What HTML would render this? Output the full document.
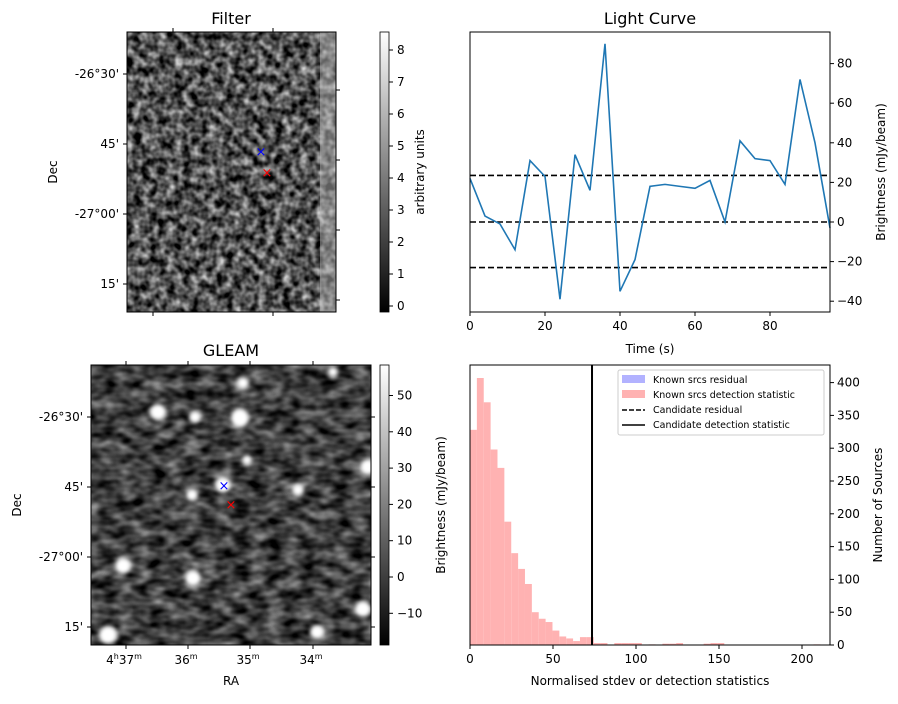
<!DOCTYPE html>
<html><head><meta charset="utf-8"><style>
body{margin:0;background:#fff;font-family:"Liberation Sans","DejaVu Sans",sans-serif}
svg text{font-family:"DejaVu Sans","Liberation Sans",sans-serif;fill:#000}
</style></head><body>
<svg id="fig" width="898" height="699" viewBox="0 0 898 699" xmlns="http://www.w3.org/2000/svg">
<defs>
<filter id="noiseA" x="0" y="0" width="100%" height="100%" color-interpolation-filters="sRGB">
<feTurbulence type="fractalNoise" baseFrequency="0.12" numOctaves="2" seed="3"/>
<feColorMatrix type="matrix" values="1.3 0 0 0 -0.33 1.3 0 0 0 -0.33 1.3 0 0 0 -0.33 0 0 0 0 1"/>
</filter>
<filter id="noiseB" x="0" y="0" width="100%" height="100%" color-interpolation-filters="sRGB">
<feTurbulence type="fractalNoise" baseFrequency="0.06 0.1" numOctaves="2" seed="8"/>
<feColorMatrix type="matrix" values="0.9 0 0 0 -0.2 0.9 0 0 0 -0.2 0.9 0 0 0 -0.2 0 0 0 0 1"/>
</filter>
<filter id="blur"><feGaussianBlur stdDeviation="2"/></filter>
<linearGradient id="gray" x1="0" y1="1" x2="0" y2="0"><stop offset="0" stop-color="#000"/><stop offset="1" stop-color="#fff"/></linearGradient>
</defs>

<g>
<text x="231" y="24" font-size="16" text-anchor="middle">Filter</text>
<rect x="127" y="32" width="209" height="280" fill="#555" filter="url(#noiseA)"/>
<rect x="320" y="32" width="16" height="280" fill="#bbb" opacity="0.5"/>
<rect x="127" y="32" width="209" height="280" fill="none" stroke="#000" stroke-width="1"/>
<text x="261" y="156" font-size="13" style="fill:#00f" text-anchor="middle">×</text>
<text x="267" y="177" font-size="13" style="fill:#f00" text-anchor="middle">×</text>
<g stroke="#000">
<line x1="173" y1="32" x2="173" y2="28"/><line x1="273" y1="32" x2="273" y2="28"/>
<line x1="153" y1="312" x2="153" y2="316"/><line x1="273" y1="312" x2="273" y2="316"/>
<line x1="336" y1="90" x2="340" y2="90"/><line x1="336" y1="160" x2="340" y2="160"/><line x1="336" y1="230" x2="340" y2="230"/><line x1="336" y1="300" x2="340" y2="300"/>
<line x1="127" y1="74" x2="123" y2="74"/><line x1="127" y1="144" x2="123" y2="144"/><line x1="127" y1="214" x2="123" y2="214"/><line x1="127" y1="284" x2="123" y2="284"/>
</g>
<g font-size="12" text-anchor="end">
<text x="119" y="78">-26°30'</text><text x="119" y="148">45'</text><text x="119" y="218">-27°00'</text><text x="119" y="288">15'</text>
</g>
<text transform="translate(57,172) rotate(-90)" font-size="12" text-anchor="middle">Dec</text>
<rect x="380" y="32" width="9" height="280" fill="url(#gray)" stroke="#000" stroke-width="0.8"/>
<g id="cb1" font-size="12"></g>
<text transform="translate(424,172) rotate(-90)" font-size="12" text-anchor="middle">arbitrary units</text>
</g>

<g>
<text x="231" y="356" font-size="16" text-anchor="middle">GLEAM</text>
<rect x="91" y="365" width="280" height="280" fill="#3a3a3a" filter="url(#noiseB)"/>
<g fill="#fff" filter="url(#blur)">
<circle cx="158" cy="412" r="8"/><circle cx="195" cy="417" r="6"/><circle cx="240" cy="418" r="9"/><circle cx="243" cy="383" r="6"/>
<circle cx="333" cy="372" r="5"/><circle cx="368" cy="467" r="8"/><circle cx="223" cy="485" r="8"/><circle cx="192" cy="495" r="6"/>
<circle cx="298" cy="490" r="6"/><circle cx="247" cy="460" r="5"/><circle cx="123" cy="566" r="8"/><circle cx="193" cy="578" r="8"/>
<circle cx="363" cy="609" r="8"/><circle cx="317" cy="632" r="7"/><circle cx="108" cy="635" r="9"/>
</g>
<rect x="91" y="365" width="280" height="280" fill="none" stroke="#000"/>
<text x="224" y="490" font-size="13" style="fill:#00f" text-anchor="middle">×</text>
<text x="231" y="509" font-size="13" style="fill:#f00" text-anchor="middle">×</text>
<g stroke="#000">
<line x1="126" y1="645" x2="126" y2="649"/><line x1="188" y1="645" x2="188" y2="649"/><line x1="250" y1="645" x2="250" y2="649"/><line x1="313" y1="645" x2="313" y2="649"/>
<line x1="126" y1="365" x2="126" y2="361"/><line x1="188" y1="365" x2="188" y2="361"/><line x1="250" y1="365" x2="250" y2="361"/><line x1="313" y1="365" x2="313" y2="361"/>
<line x1="91" y1="417" x2="87" y2="417"/><line x1="91" y1="487" x2="87" y2="487"/><line x1="91" y1="557" x2="87" y2="557"/><line x1="91" y1="627" x2="87" y2="627"/>
<line x1="371" y1="417" x2="375" y2="417"/><line x1="371" y1="487" x2="375" y2="487"/><line x1="371" y1="557" x2="375" y2="557"/><line x1="371" y1="627" x2="375" y2="627"/>
</g>
<g font-size="12" text-anchor="end">
<text x="83" y="421">-26°30'</text><text x="83" y="491">45'</text><text x="83" y="561">-27°00'</text><text x="83" y="631">15'</text>
</g>
<g font-size="12" text-anchor="middle">
<text x="124" y="664">4<tspan font-size="8" dy="-5">h</tspan><tspan dy="5">37</tspan><tspan font-size="8" dy="-5">m</tspan></text>
<text x="186" y="664">36<tspan font-size="8" dy="-5">m</tspan></text>
<text x="248" y="664">35<tspan font-size="8" dy="-5">m</tspan></text>
<text x="311" y="664">34<tspan font-size="8" dy="-5">m</tspan></text>
</g>
<text x="231" y="685" font-size="12" text-anchor="middle">RA</text>
<text transform="translate(21,505) rotate(-90)" font-size="12" text-anchor="middle">Dec</text>
<rect x="380" y="365" width="9" height="280" fill="url(#gray)" stroke="#000" stroke-width="0.8"/>
<g id="cb2" font-size="12"></g>
<text transform="translate(445,505) rotate(-90)" font-size="12" text-anchor="middle">Brightness (mJy/beam)</text>
</g>

<g id="lc">
<text x="650" y="24" font-size="16" text-anchor="middle">Light Curve</text>
<text x="650" y="353" font-size="12" text-anchor="middle">Time (s)</text>
<text transform="translate(885,172) rotate(-90)" font-size="12" text-anchor="middle">Brightness (mJy/beam)</text>
</g>

<g id="hist">
<text x="650" y="685" font-size="12" text-anchor="middle">Normalised stdev or detection statistics</text>
<text transform="translate(882,505) rotate(-90)" font-size="12" text-anchor="middle">Number of Sources</text>
</g>
</svg>
<script>
const lcTimes=[0,4,8,12,16,20,24,28,32,36,40,44,48,52,56,60,64,68,72,76,80,84,88,92,96];
const lcValues=[22,3,-1,-14,31,23,-39,34,16,90,-35,-19,18,19,18,17,21,0,41,32,31,19,72,40,-3];
const lcThresholds=[23.5,0,-23];
const lcXTicks=[0,20,40,60,80];
const lcYTicks=[-40,-20,0,20,40,60,80];
const histBinWidth=4.14;
const histCounts=[328,407,370,298,270,188,140,116,93,50,40,35,22,13,10,6,12,12,3,3,0,3,3,3,3,0,1,0,2,2,3,0,0,0,2,3,3,0,0,0,0,0,0,0,0,0,0,0,0,0,1];
const candidateStat=73.5;
const histXTicks=[0,50,100,150,200];
const histYTicks=[0,50,100,150,200,250,300,350,400];
const cb1Ticks=[0,1,2,3,4,5,6,7,8];
const cb2Ticks=[-10,0,10,20,30,40,50];

const NS="http://www.w3.org/2000/svg";
function mk(tag,attrs,parent){const e=document.createElementNS(NS,tag);for(const k in attrs)e.setAttribute(k,attrs[k]);parent.appendChild(e);return e;}
function txt(s,attrs,parent){const e=mk('text',attrs,parent);e.textContent=s;return e;}

const cb1=document.getElementById('cb1');
const cb1y=v=>306-v*32;
cb1Ticks.forEach(t=>{const l=mk('line',{x1:389,x2:393,y1:cb1y(t),y2:cb1y(t),stroke:'#000'},cb1);


txt(String(t),{x:397,y:cb1y(t)+4},cb1);});
const cb2=document.getElementById('cb2');
const cb2y=v=>577-v*3.63;
cb2Ticks.forEach(t=>{const l=mk('line',{x1:389,x2:393,y1:cb2y(t),y2:cb2y(t),stroke:'#000'},cb2);


txt(String(t).replace('-','−'),{x:397,y:cb2y(t)+4},cb2);});

const lc=document.getElementById('lc');
const L={x0:470,x1:830,y0:32,y1:312};
const lx=t=>L.x0+(t-0)/(96-0)*(L.x1-L.x0);
const ly=v=>222-v*1.98;
lcThresholds.forEach(v=>{const l=mk('line',{x1:L.x0,x2:L.x1,y1:ly(v),y2:ly(v),stroke:'#000','stroke-width':1.6,'stroke-dasharray':'6,3'},lc);

});
const pl=mk('polyline',{points:lcTimes.map((t,i)=>lx(t)+','+ly(lcValues[i])).join(' '),fill:'none',stroke:'#1f77b4','stroke-width':1.6},lc);


mk('rect',{x:L.x0,y:L.y0,width:L.x1-L.x0,height:L.y1-L.y0,fill:'none',stroke:'#000'},lc);
lcXTicks.forEach(t=>{mk('line',{x1:lx(t),x2:lx(t),y1:L.y1,y2:L.y1+4,stroke:'#000'},lc);txt(String(t),{x:lx(t),y:L.y1+18,'font-size':12,'text-anchor':'middle'},lc);});
lcYTicks.forEach(t=>{mk('line',{x1:L.x1,x2:L.x1+4,y1:ly(t),y2:ly(t),stroke:'#000'},lc);txt(String(t).replace('-','−'),{x:L.x1+7,y:ly(t)+4,'font-size':12},lc);});

const h=document.getElementById('hist');
const H={x0:470,x1:830,y0:365,y1:645};
const hx=v=>H.x0+v*1.66;
const hy=c=>H.y1-c*0.656;
histCounts.forEach((c,i)=>{if(c<=0)return;const x=hx(i*histBinWidth);const r=mk('rect',{x:x,y:hy(c),width:hx((i+1)*histBinWidth)-x,height:H.y1-hy(c),fill:'#ffb2b2'},h);

});
const cl=mk('line',{x1:hx(candidateStat),x2:hx(candidateStat),y1:H.y0,y2:H.y1,stroke:'#000','stroke-width':2},h);


mk('rect',{x:H.x0,y:H.y0,width:H.x1-H.x0,height:H.y1-H.y0,fill:'none',stroke:'#000'},h);
histXTicks.forEach(t=>{mk('line',{x1:hx(t),x2:hx(t),y1:H.y1,y2:H.y1+4,stroke:'#000'},h);txt(String(t),{x:hx(t),y:H.y1+18,'font-size':12,'text-anchor':'middle'},h);});
histYTicks.forEach(t=>{mk('line',{x1:H.x1,x2:H.x1+4,y1:hy(t),y2:hy(t),stroke:'#000'},h);txt(String(t),{x:H.x1+7,y:hy(t)+4,'font-size':12},h);});
const lg=mk('g',{},h);


mk('rect',{x:618,y:370,width:206,height:65,fill:'#fff',stroke:'#ccc',rx:2},lg);
mk('rect',{x:622,y:375,width:23,height:8,fill:'#b2b2ff'},lg);
mk('rect',{x:622,y:390,width:23,height:8,fill:'#ffb2b2'},lg);
mk('line',{x1:622,x2:645,y1:410,y2:410,stroke:'#000','stroke-width':1.5,'stroke-dasharray':'5,2'},lg);
mk('line',{x1:622,x2:645,y1:425,y2:425,stroke:'#000','stroke-width':1.5},lg);
['Known srcs residual','Known srcs detection statistic','Candidate residual','Candidate detection statistic'].forEach((s,i)=>txt(s,{x:653,y:383+i*15,'font-size':9.5},lg));
</script>
</body></html>
